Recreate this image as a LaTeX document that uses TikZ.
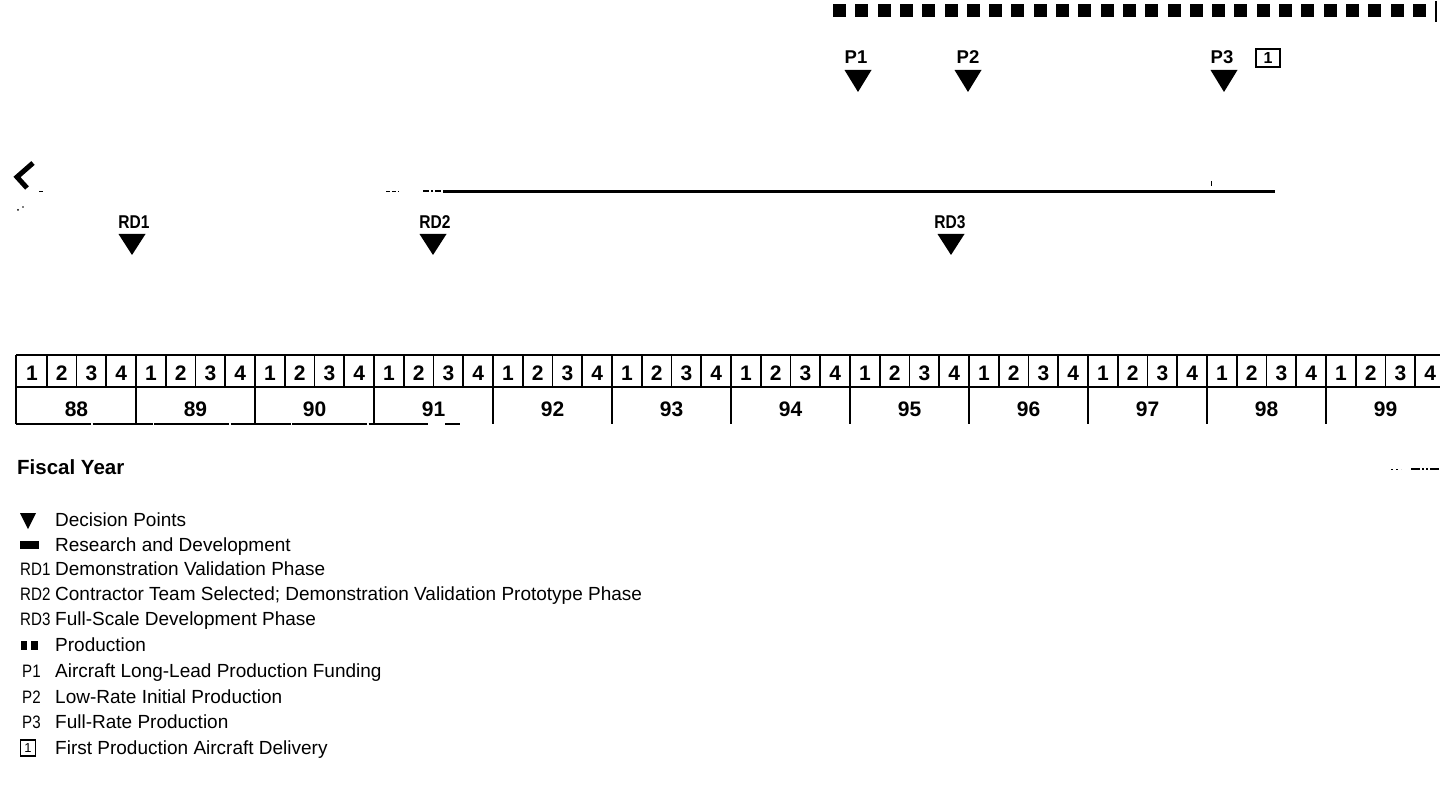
\documentclass[tikz,border=0pt]{standalone}
\usepackage{fontspec}
\setmainfont{Liberation Sans}
\newfontfamily\narrowfont[FakeStretch=0.84]{Liberation Sans}
\begin{document}
\begin{tikzpicture}[x=1pt,y=-1pt,
  lbl/.style={font=\bfseries\fontsize{18.5}{20}\selectfont, inner sep=0pt},
  nlbl/.style={font=\narrowfont\bfseries\fontsize{18.5}{20}\selectfont, inner sep=0pt},
  qd/.style={font=\bfseries\fontsize{21}{22}\selectfont, inner sep=0pt},
  leg/.style={font=\fontsize{19}{21}\selectfont, anchor=base west, inner sep=0pt},
  legk/.style={font=\narrowfont\fontsize{18}{20}\selectfont, anchor=base west, inner sep=0pt},
  dtri/.style={fill=black},
  grid/.style={line width=1.6pt},
  boxone/.style={draw, line width=1.6pt, minimum width=24pt, minimum height=18pt, inner sep=0pt, font=\bfseries\fontsize{16}{17}\selectfont}
]
\useasboundingbox (0,0) rectangle (1440,802);
\clip (0,0) rectangle (1440,802);

% ---------- production line (dashed squares) ----------
\foreach \i in {0,...,26}{
  \fill ({833+22.3*\i},4) rectangle ++(13,13);
}
\draw[line width=2pt] (1436,1) -- (1436,22);

% ---------- production decision points ----------
\node[lbl] (p1) at (856,57) {P1};
\node[lbl] (p2) at (968,57) {P2};
\node[lbl] (p3) at (1222,57) {P3};
\node[boxone] (d1) at (1268,58) {1};
\fill[dtri] (844.5,70) -- (871.5,70) -- (858,92) -- cycle;
\fill[dtri] (954.5,70) -- (981.5,70) -- (968,92) -- cycle;
\fill[dtri] (1210.5,70) -- (1237.5,70) -- (1224,92) -- cycle;

% ---------- left fragment ----------
\draw[line width=5pt, line join=miter, line cap=butt] (33,163) -- (17,177) -- (27,188);
\draw[line width=1pt] (39,192) -- (43,192);
\fill (18,210) circle (1pt);
\fill (23,207) circle (0.8pt);

% ---------- research and development line ----------
\draw[line width=1.6pt, dash pattern=on 4pt off 2pt] (386,191.5) -- (399,191.5);
\draw[line width=2pt, dash pattern=on 6pt off 2pt on 2pt off 2pt] (423,191.5) -- (443,191.5);
\draw[line width=3pt] (443,191.5) -- (1275,191.5);
\draw[line width=0.8pt] (1211,181) -- (1211,186);

% ---------- R&D decision points ----------
\node[nlbl] (rd1) at (134,222) {RD1};
\node[nlbl] (rd2) at (435,222) {RD2};
\node[nlbl] (rd3) at (950,222) {RD3};
\fill[dtri] (118.5,234) -- (145.5,234) -- (132,255) -- cycle;
\fill[dtri] (419.5,234) -- (446.5,234) -- (433,255) -- cycle;
\fill[dtri] (937.5,234) -- (964.5,234) -- (951,255) -- cycle;

% ---------- fiscal year timeline ----------
\draw[grid] (16,355) -- (1445,355);
\draw[grid] (16,387) -- (1445,387);
\draw[grid] (16,355) -- (16,424);
\foreach \k [count=\n from 0] in {88,89,90,91,92,93,94,95,96,97,98,99}{
  \pgfmathsetmacro{\L}{17+119*\n}
  \draw[grid] ({\L+119},355) -- ({\L+119},424);
  \foreach \q in {1,2,3}{
    \draw[grid] ({\L+29.75*\q},355) -- ({\L+29.75*\q},387);
  }
  \foreach \q in {1,2,3,4}{
    \node[qd] (q\k-\q) at ({\L+29.75*(\q-0.5)},373) {\q};
  }
  \node[qd] (y\k) at ({\L+59.5},409) {\k};
}
\draw[line width=1.5pt, dash pattern=on 75pt off 1.5pt on 60pt off 1.5pt] (16,424) -- (428,424);
\draw[line width=1.5pt] (445,424) -- (460,424);

% faint marks bottom right
\draw[line width=0.8pt, dash pattern=on 2pt off 3pt] (1391,469) -- (1401,469);
\draw[line width=1.2pt, dash pattern=on 9pt off 2pt on 2pt off 2pt on 2pt off 2pt] (1411,469) -- (1440,469);

% ---------- legend ----------
\node[font=\bfseries\fontsize{20.5}{22}\selectfont, anchor=base west, inner sep=0pt] (fy) at (17,474) {Fiscal Year};

\fill[dtri] (20,513) -- (36,513) -- (28,529) -- cycle;
\node[leg] (l1) at (55,526) {Decision Points};

\fill (20,540.5) rectangle (39,549);
\node[leg] (l2) at (55,551) {Research and Development};

\node[legk] (k3) at (20,575) {RD1};
\node[leg] (l3) at (55,575) {Demonstration Validation Phase};

\node[legk] (k4) at (20,600) {RD2};
\node[leg] (l4) at (55,600) {Contractor Team Selected; Demonstration Validation Prototype Phase};

\node[legk] (k5) at (20,625) {RD3};
\node[leg] (l5) at (55,625) {Full-Scale Development Phase};

\fill (21,641) rectangle (27,650);
\fill (31,641) rectangle (38,650);
\node[leg] (l6) at (55,651) {Production};

\node[legk] (k7) at (22,677) {P1};
\node[leg] (l7) at (55,677) {Aircraft Long-Lead Production Funding};

\node[legk] (k8) at (22,703) {P2};
\node[leg] (l8) at (55,703) {Low-Rate Initial Production};

\node[legk] (k9) at (22,728) {P3};
\node[leg] (l9) at (55,728) {Full-Rate Production};

\node[draw, line width=1.3pt, minimum width=15pt, minimum height=16pt, inner sep=0pt, font=\fontsize{13}{14}\selectfont] (k10) at (28,748) {1};
\node[leg] (l10) at (55,754) {First Production Aircraft Delivery};
\end{tikzpicture}
\end{document}
